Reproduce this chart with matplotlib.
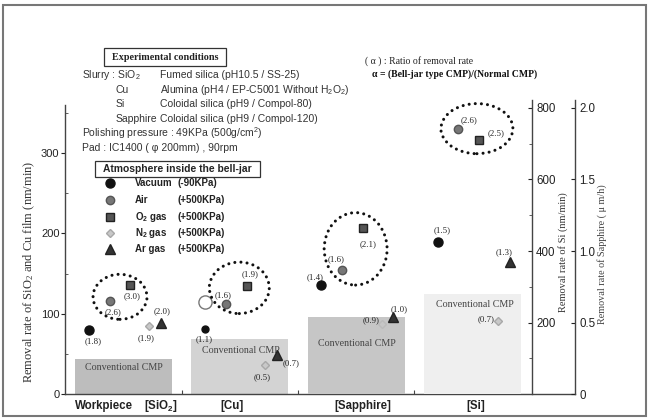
import matplotlib
matplotlib.use('Agg')
import matplotlib.pyplot as plt
import numpy as np
from matplotlib.patches import Ellipse, Rectangle
from matplotlib.transforms import IdentityTransform
from matplotlib.lines import Line2D

plt.rcParams['font.family'] = ['Liberation Sans', 'DejaVu Sans']
plt.rcParams['mathtext.default'] = 'regular'

# ---------------- data ----------------
workpieces = ['SiO2', 'Cu', 'Sapphire', 'Si']
gases = ['Vacuum', 'Air', 'O2 gas', 'N2 gas', 'Ar gas']
gas_labels = ['Vacuum', 'Air', 'O$_2$ gas', 'N$_2$ gas', 'Ar gas']
gas_pressures = ['(-90KPa)', '(+500KPa)', '(+500KPa)', '(+500KPa)', '(+500KPa)']

conventional = [43, 69, 0.54, 279]          # SiO2, Cu (nm/min), Sapphire (um/h), Si (nm/min)
sio2_rates = [80, 116, 136, 85, 89]          # nm/min
cu_rates = [81, 112, 135, 36, 48]            # nm/min
sapphire_rates = [0.76, 0.87, 1.16, 0.49, 0.54]  # um/h
si_rates = [426, 741, 710, 203, 368]         # nm/min
cu_open_circle = 115

sio2_ratio = [1.8, 2.6, 3.0, 1.9, 2.0]
cu_ratio = [1.1, 1.6, 1.9, 0.5, 0.7]
sapphire_ratio = [1.4, 1.6, 2.1, 0.9, 1.0]
si_ratio = [1.5, 2.6, 2.5, 0.7, 1.3]

left_ticks = [0, 100, 200, 300]
si_ticks = [200, 400, 600, 800]
sapphire_ticks = [0, 0.5, 1.0, 1.5, 2.0]
sapphire_ticklabels = ['0', '0.5', '1.0', '1.5', '2.0']

# ---------------- style ----------------
W, H = 650, 419
fig = plt.figure(figsize=(W / 100, H / 100), dpi=100)
fig.patch.set_facecolor('white')

gas_offsets = [-0.30, -0.12, 0.06, 0.22, 0.32]
mstyle = [
    dict(marker='o', ms=6.5, mfc='#111111', mec='#111111'),
    dict(marker='o', ms=6.0, mfc='#777777', mec='#555555'),
    dict(marker='s', ms=5.5, mfc='#555555', mec='#222222'),
    dict(marker='D', ms=4.5, mfc='#c8c8c8', mec='#a8a8a8'),
    dict(marker='^', ms=6.5, mfc='#333333', mec='#222222'),
]
box_colors = ['#bdbdbd', '#d3d3d3', '#c6c6c6', '#efefef']
serif = 'Liberation Serif'
axis_color = '#444444'

ax = fig.add_axes([65 / W, 25 / H, 510 / W, 294 / H])
ax.set_xlim(-0.503, 3.882)
ax.set_ylim(0, 294 / 0.803)
ax_si = ax.twinx()
ax_si.set_ylim(0, 294 / 0.3575)
ax_sa = ax.twinx()
ax_sa.set_ylim(0, 294 / 0.3575 / 400)

for a in (ax, ax_si, ax_sa):
    a.patch.set_visible(False)
    for s in a.spines.values():
        s.set_color(axis_color)
        s.set_linewidth(1.0)
ax.spines['top'].set_visible(False)
ax.spines['right'].set_visible(False)
ax.spines['left'].set_bounds(0, 360)
for a in (ax_si, ax_sa):
    a.spines['top'].set_visible(False)
    a.spines['left'].set_visible(False)
    a.spines['bottom'].set_visible(False)
ax_si.spines['right'].set_position(('axes', 467 / 510))

# ticks
ax.set_yticks(left_ticks)
ax.set_yticks([50, 150, 250, 350], minor=True)
ax.tick_params(axis='y', which='major', direction='out', length=3, labelsize=8,
               pad=1, colors='#222222')
ax.tick_params(axis='y', which='minor', direction='in', length=2, color=axis_color)
ax.set_xticks([0.5, 1.5, 2.5])
ax.tick_params(axis='x', direction='in', length=3, labelbottom=False, color=axis_color)

ax_si.set_yticks(si_ticks)
ax_si.set_yticks([100, 300, 500, 700], minor=True)
ax_si.tick_params(axis='y', which='major', direction='in', length=3, labelsize=8.3,
                  pad=3, colors='#222222')
ax_si.tick_params(axis='y', which='minor', direction='in', length=2, color=axis_color)

ax_sa.set_yticks(sapphire_ticks)
ax_sa.set_yticklabels(sapphire_ticklabels)
ax_sa.tick_params(axis='y', which='major', direction='in', length=3, labelsize=8.3,
                  pad=3, colors='#222222')

# conventional CMP boxes
group_axes = [ax, ax, ax_sa, ax_si]
group_rates = [sio2_rates, cu_rates, sapphire_rates, si_rates]
group_ratios = [sio2_ratio, cu_ratio, sapphire_ratio, si_ratio]
box_width = 0.834
for i, (a, conv) in enumerate(zip(group_axes, conventional)):
    a.bar(i, conv, width=box_width, color=box_colors[i], edgecolor='none', zorder=1)

conv_text_pos = [(0, -8), (1, -12), (1, -27), (2, -10)]  # pixel offsets from box top
for i, (a, conv) in enumerate(zip(group_axes, conventional)):
    dx, dy = conv_text_pos[i]
    a.annotate('Conventional CMP', xy=(i, conv), xytext=(dx, dy), textcoords='offset pixels',
               ha='center', va='center', fontsize=7.2, family=serif, color='#444444', zorder=3)

# Cu open circle
ax.plot(1 + gas_offsets[0], cu_open_circle, marker='o', ms=9.5, mfc='white',
        mec='#777777', mew=1.0, ls='none', zorder=4)

# points + ratio labels
label_offsets = [
    [(5, -11), (3, -11), (2, -11), (-3, -12), (1, 11)],
    [(-1, -10), (-3, 9), (3, 11), (-3, -12), (14, -8)],
    [(-6, 8), (-6, 10), (5, -16), (-11, 4), (6, 8)],
    [(5, 12), (11, 9), (17, 7), (-12, 2), (-6, 10)],
]
for g, (a, rates, ratios) in enumerate(zip(group_axes, group_rates, group_ratios)):
    for k, (v, r) in enumerate(zip(rates, ratios)):
        st = dict(mstyle[k])
        if g == 1 and k == 0:
            st['ms'] = 5.0
        if g == 2 and k == 3:
            st['mfc'] = box_colors[2]
            st['mec'] = '#bbbbbb'
        x = g + gas_offsets[k]
        a.plot(x, v, ls='none', zorder=5, **st)
        dx, dy = label_offsets[g][k]
        a.annotate(f'({r:.1f})', xy=(x, v), xytext=(dx, dy), textcoords='offset pixels',
                   ha='center', va='center', fontsize=6.3, family=serif, color='#222222',
                   zorder=6)

# dotted ellipses around Air and O2 of each group
ell_pad = [(33, 29), (39, 33), (42, 31), (51, 39)]
ell_shift = [(0, -4), (3, 7), (3, 0), (8, 6)]
fig.canvas.draw()
for g, (a, rates) in enumerate(zip(group_axes, group_rates)):
    pts = a.transData.transform([[g + gas_offsets[1], rates[1]], [g + gas_offsets[2], rates[2]]])
    c = pts.mean(axis=0) + np.array(ell_shift[g])
    w = abs(pts[1, 0] - pts[0, 0]) + ell_pad[g][0]
    h = abs(pts[1, 1] - pts[0, 1]) + ell_pad[g][1]
    e = Ellipse(c, w, h, transform=IdentityTransform(), fill=False, edgecolor='#111111',
                linewidth=2.2, linestyle=(0, (0.01, 2.0)), capstyle='round', zorder=20)
    fig.add_artist(e)

# ---------------- overlay (annotations in pixel coords) ----------------
ov = fig.add_axes([0, 0, 1, 1], zorder=10)
ov.set_xlim(0, W)
ov.set_ylim(H, 0)
ov.axis('off')

ov.add_patch(Rectangle((3, 5), 643, 411, fill=False, edgecolor='#777777', lw=1.5))

# experimental conditions
ov.add_patch(Rectangle((104, 48), 122, 18, fill=False, edgecolor='#333333', lw=0.9))
ov.text(165, 57.5, 'Experimental conditions', ha='center', va='center', fontsize=7.3,
        family=serif, weight='bold', color='#222222')
cond_color = '#333333'
cfs = 7.5
rows_y = [75, 90, 104, 119, 133, 148]
ov.text(82, rows_y[0], 'Slurry : SiO$_2$', va='center', fontsize=cfs, color=cond_color)
ov.text(116, rows_y[1], 'Cu', va='center', fontsize=cfs, color=cond_color)
ov.text(116, rows_y[2], 'Si', va='center', fontsize=cfs, color=cond_color)
ov.text(116, rows_y[3], 'Sapphire', va='center', fontsize=cfs, color=cond_color)
ov.text(160, rows_y[0], 'Fumed silica (pH10.5 / SS-25)', va='center', fontsize=cfs, color=cond_color)
ov.text(160, rows_y[1], 'Alumina (pH4 / EP-C5001 Without H$_2$O$_2$)', va='center', fontsize=cfs,
        color=cond_color)
ov.text(160, rows_y[2], 'Coloidal silica (pH9 / Compol-80)', va='center', fontsize=cfs, color=cond_color)
ov.text(160, rows_y[3], 'Coloidal silica (pH9 / Compol-120)', va='center', fontsize=cfs,
        color=cond_color)
ov.text(82, rows_y[4], 'Polishing pressure : 49KPa (500g/cm$^2$)', va='center', fontsize=cfs,
        color=cond_color)
ov.text(82, rows_y[5], 'Pad : IC1400 ( \u03c6 200mm) , 90rpm', va='center', fontsize=cfs,
        color=cond_color)

# ratio note
ov.text(365, 61, '( \u03b1 ) : Ratio of removal rate', va='center', fontsize=7, family=serif,
        color='#222222')
ov.text(372, 74, '\u03b1 = (Bell-jar type CMP)/(Normal CMP)', va='center', fontsize=7,
        family=serif, weight='bold', color='#111111')

# atmosphere legend
ov.add_patch(Rectangle((95, 161), 165, 16, fill=False, edgecolor='#333333', lw=0.9))
ov.text(177.5, 169, 'Atmosphere inside the bell-jar', ha='center', va='center', fontsize=7.4,
        weight='bold', color='#222222')
leg_y = [183, 200, 217, 233, 249]
for k in range(len(gases)):
    st = dict(mstyle[k])
    ov.add_line(Line2D([110], [leg_y[k]], ls='none', **st))
    ov.text(135, leg_y[k], gas_labels[k], va='center', fontsize=7, weight='bold', color='#222222')
    ov.text(177, leg_y[k], gas_pressures[k], va='center', fontsize=7, weight='bold', color='#222222')

# axis titles
ov.text(29, 272, 'Removal rate of SiO$_2$ and Cu film (nm/min)', rotation=90, ha='center',
        va='center', fontsize=9, family=serif, color='#333333')
ov.text(563, 252, 'Removal rate of Si (nm/min)', rotation=90, ha='center', va='center',
        fontsize=7.5, family=serif, color='#333333')
ov.text(602, 254, 'Removal rate of Sapphire ( \u03bc m/h)', rotation=90, ha='center', va='center',
        fontsize=7.3, family=serif, color='#444444')

# workpiece labels
bfs = 8.3
ov.text(104, 406, 'Workpiece', ha='center', va='center', fontsize=bfs, weight='bold', color='#222222')
ov.text(161, 406, '[SiO$_2$]', ha='center', va='center', fontsize=bfs, weight='bold', color='#222222')
ov.text(232, 406, '[Cu]', ha='center', va='center', fontsize=bfs, weight='bold', color='#222222')
ov.text(363, 406, '[Sapphire]', ha='center', va='center', fontsize=bfs, weight='bold', color='#222222')
ov.text(476, 406, '[Si]', ha='center', va='center', fontsize=bfs, weight='bold', color='#222222')

fig.savefig('out.png', dpi=100)
